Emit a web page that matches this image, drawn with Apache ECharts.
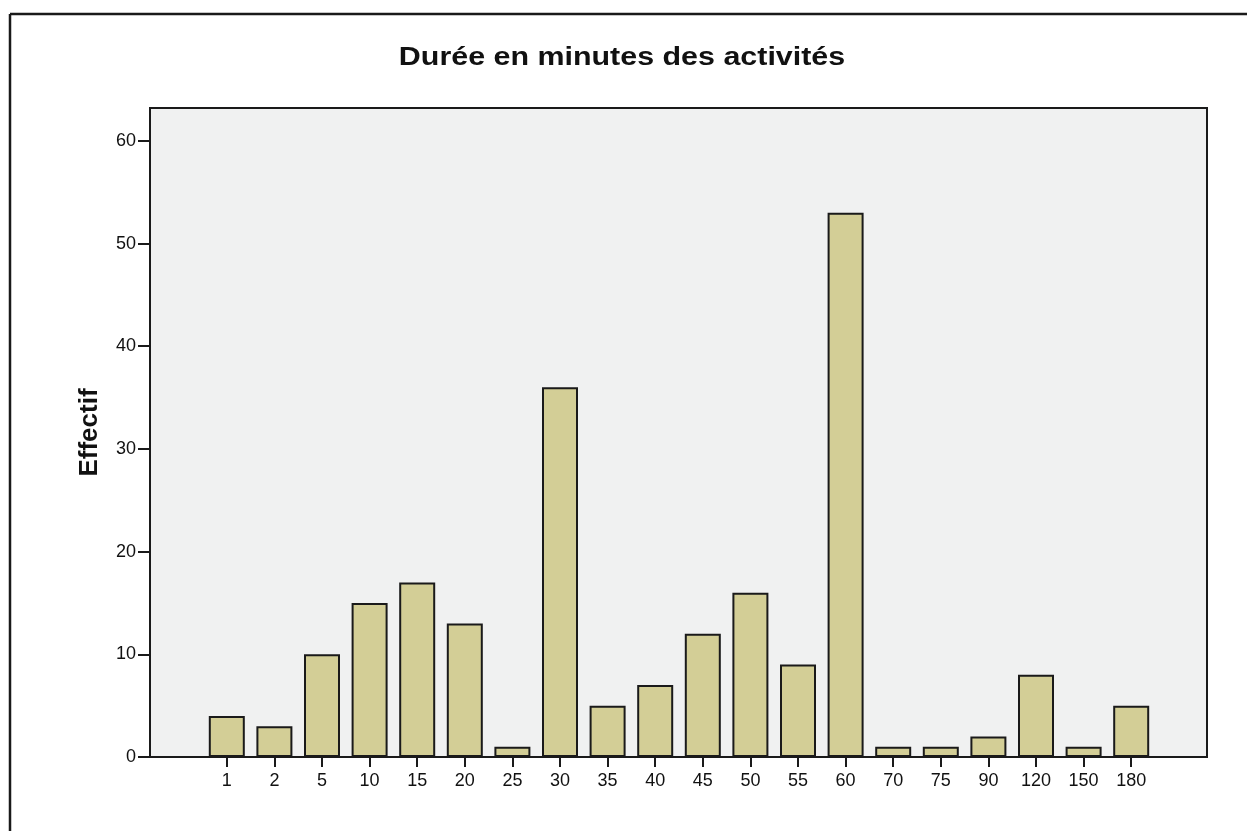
<!DOCTYPE html>
<html>
<head>
<meta charset="utf-8">
<script src="https://cdn.jsdelivr.net/npm/echarts@6/dist/echarts.min.js"></script>
<style>
html,body{margin:0;padding:0;background:#fff;}
#chart{width:1247px;height:831px;}
</style>
</head>
<body>
<div id="chart"></div>
<script>
const titleText = 'Durée en minutes des activités';
const yAxisName = 'Effectif';
const categories = ['1','2','5','10','15','20','25','30','35','40','45','50','55','60','70','75','90','120','150','180'];
const counts = [4,3,10,15,17,13,1,36,5,7,12,16,9,53,1,1,2,8,1,5];
const yMin = 0, yMax = 63.2, yStep = 10;

const chart = echarts.init(document.getElementById('chart'), null, {renderer:'canvas'});
const font = 'Liberation Sans, Arial, sans-serif';
chart.setOption({
  animation:false,
  backgroundColor:'#ffffff',
  graphic:[
    {type:'line', shape:{x1:10, y1:14, x2:1247, y2:14}, style:{stroke:'#1a1a1a', lineWidth:2.5}},
    {type:'line', shape:{x1:10, y1:14, x2:10, y2:831}, style:{stroke:'#1a1a1a', lineWidth:2.5}},
    {type:'text', x:622, y:58, scaleX:1.17, scaleY:1,
     style:{text:titleText, fontFamily:font, fontSize:26, fontWeight:'bold', fill:'#111',
            textAlign:'center', textVerticalAlign:'middle'}}
  ],
  grid:[
    {left:150, right:40, top:108, bottom:74, show:true, backgroundColor:'#f0f1f1', borderColor:'#1a1a1a', borderWidth:2, z:0},
    {left:203, width:952, top:108, bottom:74, show:false}
  ],
  xAxis:[
    {gridIndex:0, type:'value', show:false, min:0, max:1},
    {gridIndex:1, type:'category', data:categories,
     axisLine:{show:false},
     axisTick:{show:true, alignWithLabel:true, length:10, lineStyle:{color:'#1a1a1a', width:2}},
     axisLabel:{fontFamily:font, fontSize:18, color:'#111', margin:15}}
  ],
  yAxis:[
    {gridIndex:0, type:'value', show:false, min:yMin, max:yMax},
    {gridIndex:1, type:'value', min:yMin, max:yMax, interval:yStep, offset:53,
     axisLine:{show:false},
     axisTick:{show:true, length:12, lineStyle:{color:'#1a1a1a', width:2}},
     splitLine:{show:false},
     axisLabel:{fontFamily:font, fontSize:18, color:'#111', margin:14, showMaxLabel:false,
       formatter:function(v){return (v % 10 === 0) ? String(v) : '';}},
     name:yAxisName, nameLocation:'middle', nameRotate:90, nameGap:47,
     nameTextStyle:{fontFamily:font, fontSize:26, fontWeight:'bold', color:'#111'}}
  ],
  series:[{
    type:'bar', xAxisIndex:1, yAxisIndex:1, data:counts, barWidth:36,
    itemStyle:{color:'#d3ce96', borderColor:'#1a1a1a', borderWidth:2},
    z:3
  }]
});
</script>
</body>
</html>
